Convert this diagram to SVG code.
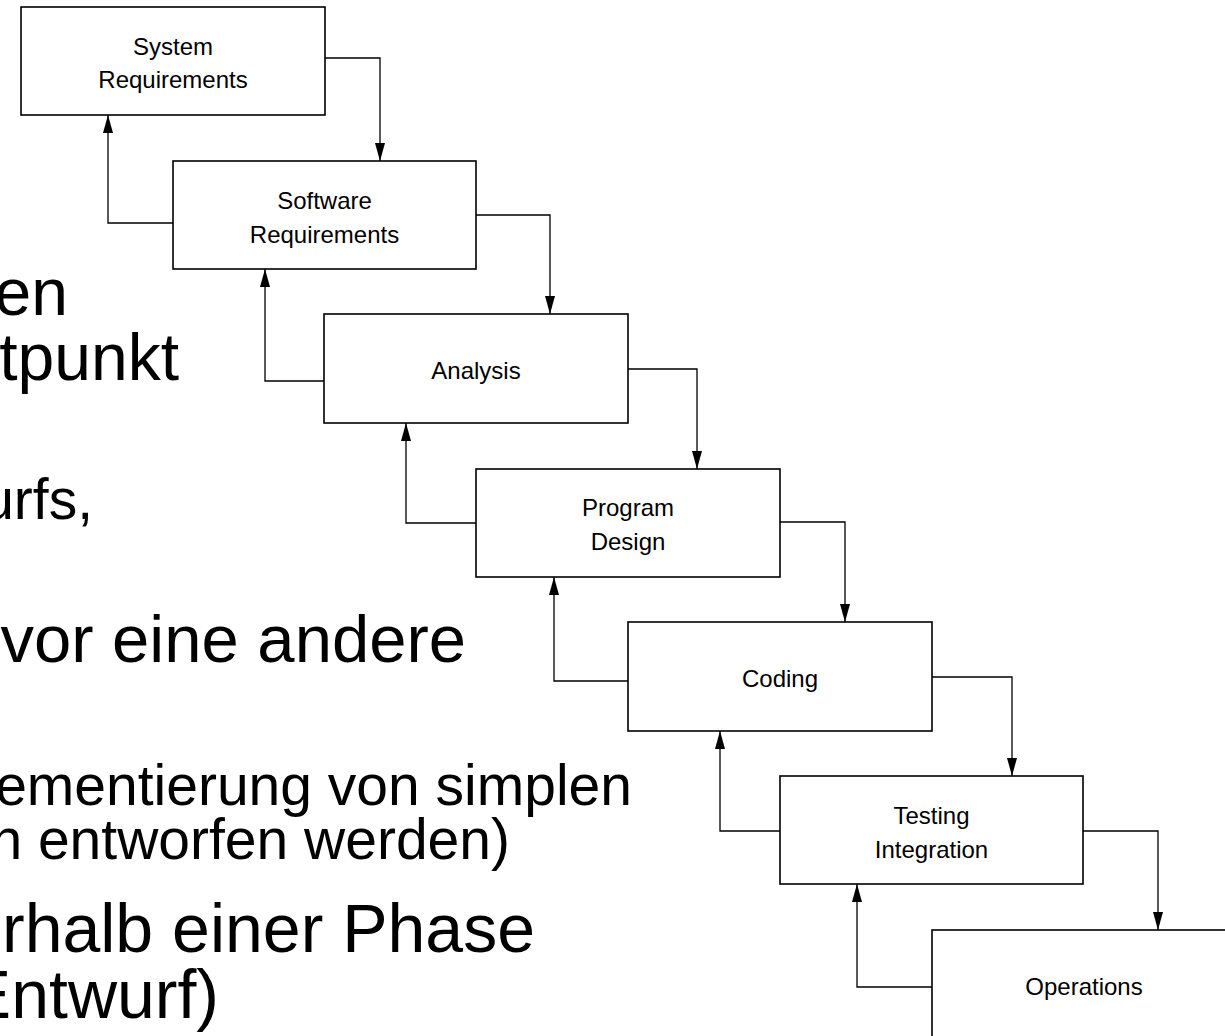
<svg xmlns="http://www.w3.org/2000/svg" width="1225" height="1036" viewBox="0 0 1225 1036">
<style>
.bg{font-family:"Liberation Sans",Arial,sans-serif;font-size:66px;fill:#000;text-anchor:end}
.sub{font-size:57px}
.big{font-size:68px}
.box{fill:#fff;stroke:#000;stroke-width:1.6}
.lbl{font-family:"Liberation Sans",Arial,sans-serif;font-size:24px;fill:#000;text-anchor:middle}
.con{fill:none;stroke:#000;stroke-width:1.3}
</style>
<defs>
<marker id="ah" viewBox="0 0 18 10" refX="18" refY="5" markerWidth="18" markerHeight="10" markerUnits="userSpaceOnUse" orient="auto">
<path d="M0,0 L18,5 L0,10 z" fill="#000"/>
</marker>
</defs>
<g id="background-text">
<text class="bg" x="68" y="315">en</text>
<text class="bg" x="179" y="380">tpunkt</text>
<text class="bg sub" x="93" y="519">urfs,</text>
<text class="bg" x="466" y="662" style="font-size:67px">vor eine andere</text>
<text class="bg sub" x="632" y="805">ementierung von simplen</text>
<text class="bg sub" x="510" y="859">n entworfen werden)</text>
<text class="bg big" x="535" y="952">rhalb einer Phase</text>
<text class="bg big" x="219" y="1018">Entwurf)</text>
</g>
<g id="connectors">
<polyline class="con" points="325,58 380,58 380,161" marker-end="url(#ah)"/>
<polyline class="con" points="476,215 550,215 550,314" marker-end="url(#ah)"/>
<polyline class="con" points="628,369 697,369 697,469" marker-end="url(#ah)"/>
<polyline class="con" points="780,522 845,522 845,622" marker-end="url(#ah)"/>
<polyline class="con" points="932,677 1012,677 1012,776" marker-end="url(#ah)"/>
<polyline class="con" points="1083,831 1158,831 1158,930" marker-end="url(#ah)"/>
<polyline class="con" points="173,223 108,223 108,115" marker-end="url(#ah)"/>
<polyline class="con" points="324,381 265,381 265,269" marker-end="url(#ah)"/>
<polyline class="con" points="476,523 406,523 406,423" marker-end="url(#ah)"/>
<polyline class="con" points="628,681 554,681 554,577" marker-end="url(#ah)"/>
<polyline class="con" points="780,831 720,831 720,731" marker-end="url(#ah)"/>
<polyline class="con" points="932,987 857,987 857,884" marker-end="url(#ah)"/>
</g>
<g id="system-requirements">
<rect class="box" x="21" y="7" width="304" height="108"/>
<text class="lbl" x="173" y="55">System</text>
<text class="lbl" x="173" y="88">Requirements</text>
</g>
<g id="software-requirements">
<rect class="box" x="173" y="161" width="303" height="108"/>
<text class="lbl" x="324.5" y="209">Software</text>
<text class="lbl" x="324.5" y="243">Requirements</text>
</g>
<g id="analysis">
<rect class="box" x="324" y="314" width="304" height="109"/>
<text class="lbl" x="476" y="379">Analysis</text>
</g>
<g id="program-design">
<rect class="box" x="476" y="469" width="304" height="108"/>
<text class="lbl" x="628" y="516">Program</text>
<text class="lbl" x="628" y="550">Design</text>
</g>
<g id="coding">
<rect class="box" x="628" y="622" width="304" height="109"/>
<text class="lbl" x="780" y="687">Coding</text>
</g>
<g id="testing-integration">
<rect class="box" x="780" y="776" width="303" height="108"/>
<text class="lbl" x="931.5" y="824">Testing</text>
<text class="lbl" x="931.5" y="858">Integration</text>
</g>
<g id="operations">
<rect class="box" x="932" y="930" width="304" height="108"/>
<text class="lbl" x="1084" y="995">Operations</text>
</g>
</svg>
